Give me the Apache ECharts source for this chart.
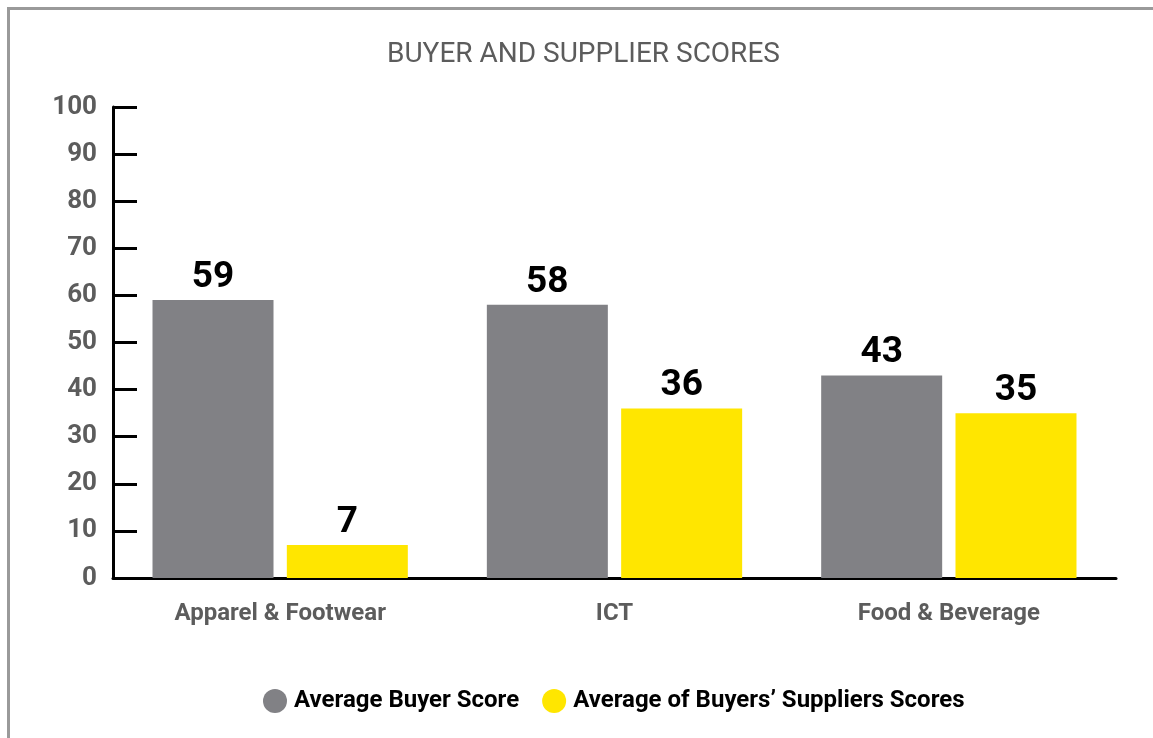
<!DOCTYPE html>
<html style="height: 100%">
<head>
	<meta charset="utf-8">
</head>
<body style="height: 100%; margin: 0; background: #fff">
<div id="frame" style="position: absolute; left: 7px; top: 7px; right: 0; bottom: 0; border-left: 3px solid #9a9a9a; border-top: 3px solid #9a9a9a; pointer-events: none"></div>
<div id="container" style="position: absolute; left: 0; top: 0; width: 1153px; height: 738px"></div>
<script type="text/javascript" src="https://cdn.jsdelivr.net/npm/echarts@6/dist/echarts.min.js"></script>
<script type="text/javascript">
    var categories = ['Apparel & Footwear', 'ICT', 'Food & Beverage'];
    var buyerScores = [59, 58, 43];
    var supplierScores = [7, 36, 35];
    var seriesNames = ['Average Buyer Score', 'Average of Buyers\u2019 Suppliers Scores'];

    var dom = document.getElementById("container");
    var myChart = echarts.init(dom);

    var labelStyle = {
        show: true,
        position: 'top',
        distance: 4,
        color: '#000',
        fontFamily: 'Roboto',
        fontWeight: 'bold',
        fontSize: 37
    };

    var option = {
        backgroundColor: 'transparent',
        animation: false,
        title: {
            text: 'BUYER AND SUPPLIER SCORES',
            left: 382,
            top: 36,
            textStyle: {
                fontFamily: 'Roboto',
                fontWeight: 'normal',
                fontSize: 28,
                color: '#5c5c5c'
            }
        },
        legend: {
            bottom: 20,
            left: 258,
            itemWidth: 24,
            itemHeight: 24,
            itemGap: 23,
            icon: 'circle',
            textStyle: {
                fontFamily: 'Roboto',
                fontWeight: 'bold',
                fontSize: 24,
                color: '#000',
                padding: [0, 0, 0, 2]
            },
            data: seriesNames
        },
        grid: {
            left: 113,
            right: 37,
            top: 107,
            bottom: 160
        },
        xAxis: {
            type: 'category',
            data: categories,
            axisLine: { lineStyle: { color: '#000', width: 3 } },
            axisTick: { show: false },
            axisLabel: {
                margin: 24,
                fontFamily: 'Roboto',
                fontWeight: 'bold',
                fontSize: 24,
                color: '#5c5c5c'
            }
        },
        yAxis: {
            type: 'value',
            min: 0,
            max: 100,
            interval: 10,
            splitLine: { show: false },
            axisLine: { show: true, lineStyle: { color: '#000', width: 3 } },
            axisTick: { show: true, inside: true, length: 24, lineStyle: { color: '#000', width: 3 } },
            axisLabel: {
                margin: 16,
                fontFamily: 'Roboto',
                fontWeight: 'bold',
                fontSize: 26,
                color: '#5c5c5c'
            }
        },
        series: [{
            name: seriesNames[0],
            type: 'bar',
            data: buyerScores,
            barWidth: 121,
            barGap: '11%',
            itemStyle: { color: '#818185' },
            label: labelStyle
        }, {
            name: seriesNames[1],
            type: 'bar',
            data: supplierScores,
            barWidth: 121,
            itemStyle: { color: '#ffe600' },
            label: labelStyle
        }]
    };

    myChart.setOption(option);
</script>
</body>
</html>
